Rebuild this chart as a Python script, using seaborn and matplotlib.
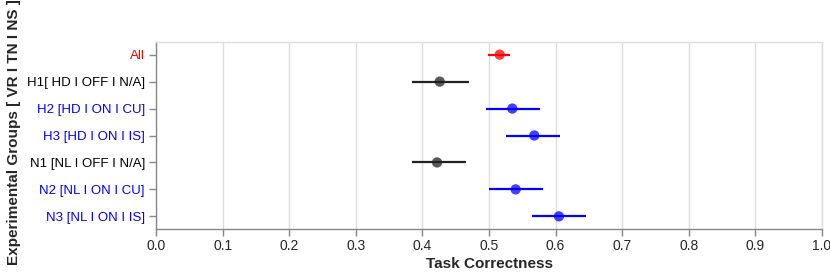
import matplotlib
matplotlib.use("Agg")
import matplotlib.pyplot as plt
import seaborn as sns
import pandas as pd
import numpy as np

groups = ["All", "H1[ HD I OFF I N/A]", "H2 [HD I ON I CU]", "H3 [HD I ON I IS]",
          "N1 [NL I OFF I N/A]", "N2 [NL I ON I CU]", "N3 [NL I ON I IS]"]
means = [0.516, 0.426, 0.535, 0.568, 0.422, 0.540, 0.605]
ci_low = [0.499, 0.384, 0.496, 0.526, 0.384, 0.500, 0.565]
ci_high = [0.532, 0.470, 0.577, 0.607, 0.465, 0.581, 0.645]
kinds = ["all", "off", "on", "on", "off", "on", "on"]
x_ticks = [0.0, 0.1, 0.2, 0.3, 0.4, 0.5, 0.6, 0.7, 0.8, 0.9, 1.0]

palette = {"all": "#ff0000", "off": "#222222", "on": "#0000ff"}
label_colors = {"all": "#ff0000", "off": "#000000", "on": "#0000ff"}

df = pd.DataFrame({"group": groups, "mean": means, "lo": ci_low, "hi": ci_high, "kind": kinds})

sns.set_style("white")
plt.rcParams["font.family"] = ["Liberation Sans", "DejaVu Sans"]

fig = plt.figure(figsize=(8.3, 2.78), dpi=100)
ax = fig.add_axes([156/830, 1-229/278, (822-156)/830, (229-42)/278])

for i, row in df.iterrows():
    ax.hlines(row["group"], row["lo"], row["hi"], color=palette[row["kind"]], lw=1.6, zorder=2)
sns.scatterplot(data=df, x="mean", y="group", hue="kind", palette=palette, s=55,
                edgecolor="none", alpha=0.75, legend=False, ax=ax, zorder=3)

ax.set_xlim(0, 1.0)
ax.set_ylim(6.47, -0.47)
ax.set_xticks(x_ticks)
ax.set_xticklabels([f"{t:.1f}" for t in x_ticks], fontsize=10)
ax.grid(axis="x", color="#dddddd", lw=1)
ax.set_axisbelow(True)

for lab, k in zip(ax.get_yticklabels(), kinds):
    lab.set_color(label_colors[k])
    lab.set_fontsize(9.5)

ax.tick_params(axis="both", length=5, width=1, color="#888888", left=True, bottom=True)
ax.tick_params(axis="x", pad=2)
ax.tick_params(axis="y", pad=3)
for s in ["left", "bottom"]:
    ax.spines[s].set_color("#888888")
    ax.spines[s].set_linewidth(1)
for s in ["top", "right"]:
    ax.spines[s].set_color("#dddddd")
    ax.spines[s].set_linewidth(1)

ax.set_xlabel("Task Correctness", fontsize=11, fontweight="bold", labelpad=3)
ax.set_ylabel("")
fig.text(14/830, 1-132/278, "Experimental Groups [ VR I TN I NS ]", rotation=90,
         fontsize=11, fontweight="bold", ha="center", va="center")

fig.savefig("out.png", dpi=100)
